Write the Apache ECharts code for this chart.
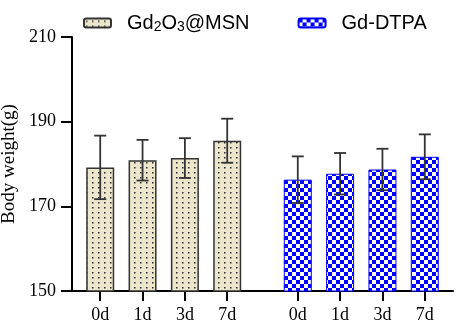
<!DOCTYPE html>
<html>
<head>
<meta charset="utf-8">
<script src="https://cdn.jsdelivr.net/npm/echarts@6/dist/echarts.min.js"></script>
<style>
  html, body { margin: 0; padding: 0; background: #fff; }
  #chart { width: 457px; height: 324px; }
</style>
</head>
<body>
<div id="chart"></div>
<script>
// data
const days = ['0d', '1d', '3d', '7d']
const msnMean = [179.2, 180.9, 181.4, 185.5]
const msnSd = [7.5, 4.8, 4.7, 5.2]
const dtpaMean = [176.3, 177.7, 178.7, 181.7]
const dtpaSd = [5.5, 4.9, 4.9, 5.3]

// where each group sits on a fine category axis (gap between groups)
const slotCount = 28
const msnSlots = [2, 5, 8, 11]
const dtpaSlots = [16, 19, 22, 25]

const serif = '"Liberation Serif", "Times New Roman", serif'
const sans = '"Liberation Sans", Arial, sans-serif'

// fill patterns
const dotCanvas = document.createElement('canvas')
dotCanvas.width = 6
dotCanvas.height = 5
let ctx = dotCanvas.getContext('2d')
ctx.fillStyle = '#ece6cd'
ctx.fillRect(0, 0, 6, 5)
ctx.fillStyle = '#2b2b2b'
ctx.fillRect(2, 2, 1.5, 1.5)

const checkCanvas = document.createElement('canvas')
checkCanvas.width = 8
checkCanvas.height = 8
ctx = checkCanvas.getContext('2d')
ctx.fillStyle = '#ffffff'
ctx.fillRect(0, 0, 8, 8)
ctx.fillStyle = '#0000ff'
ctx.fillRect(0, 0, 4, 4)
ctx.fillRect(4, 4, 4, 4)

// build slot arrays
const xLabels = new Array(slotCount).fill('')
const msnData = new Array(slotCount).fill('-')
const dtpaData = new Array(slotCount).fill('-')
const errData = []
days.forEach((d, i) => {
    xLabels[msnSlots[i]] = d
    xLabels[dtpaSlots[i]] = d
    msnData[msnSlots[i]] = msnMean[i]
    dtpaData[dtpaSlots[i]] = dtpaMean[i]
    errData.push([msnSlots[i], msnMean[i] - msnSd[i], msnMean[i] + msnSd[i]])
    errData.push([dtpaSlots[i], dtpaMean[i] - dtpaSd[i], dtpaMean[i] + dtpaSd[i]])
})
const isLabelled = (idx) => xLabels[idx] !== ''

const chartInstance = echarts.init(document.getElementById('chart'))

const option = {
    animation: false,
    legend: {
        top: 8,
        left: 78,
        itemWidth: 27,
        itemHeight: 9,
        itemGap: 48,
        data: ['Gd2O3@MSN', 'Gd-DTPA'],
        formatter: (name) => name === 'Gd2O3@MSN' ? 'Gd{sub|2}O{sub|3}@MSN' : name,
        textStyle: {
            fontFamily: sans,
            fontSize: 20,
            color: '#000',
            padding: [0, 0, 0, 11],
            rich: {
                sub: {
                    fontFamily: sans,
                    fontSize: 14,
                    verticalAlign: 'bottom',
                    padding: [8, 0, 0, 0],
                    color: '#000'
                }
            }
        }
    },
    grid: {
        left: 72,
        right: 4,
        top: 37,
        bottom: 33,
        containLabel: false,
        outerBoundsMode: 'none'
    },
    xAxis: {
        type: 'category',
        data: xLabels,
        boundaryGap: false,
        axisLine: { lineStyle: { color: '#000', width: 2 } },
        axisTick: {
            interval: isLabelled,
            length: 10,
            lineStyle: { color: '#000', width: 2 }
        },
        axisLabel: {
            interval: isLabelled,
            margin: 15,
            fontFamily: serif,
            fontSize: 18,
            color: '#000'
        }
    },
    yAxis: {
        type: 'value',
        min: 150,
        max: 210,
        interval: 20,
        name: 'Body weight(g)',
        nameLocation: 'middle',
        nameGap: 52,
        nameTextStyle: { fontFamily: serif, fontSize: 19, color: '#000' },
        splitLine: { show: false },
        axisLine: { show: true, lineStyle: { color: '#000', width: 2 } },
        axisTick: { show: true, length: 11, lineStyle: { color: '#000', width: 2 } },
        axisLabel: { margin: 16, fontFamily: serif, fontSize: 18, color: '#000' }
    },
    series: [
        {
            name: 'Gd2O3@MSN',
            type: 'bar',
            data: msnData,
            barWidth: 28,
            barGap: '-100%',
            itemStyle: {
                color: { image: dotCanvas, repeat: 'repeat' },
                borderColor: '#333',
                borderWidth: 1.5
            }
        },
        {
            name: 'Gd-DTPA',
            type: 'bar',
            data: dtpaData,
            barWidth: 28,
            barGap: '-100%',
            itemStyle: {
                color: { image: checkCanvas, repeat: 'repeat' },
                borderColor: '#0000ff',
                borderWidth: 1
            }
        },
        {
            name: 'error',
            type: 'custom',
            data: errData,
            z: 10,
            renderItem: (params, api) => {
                const x = api.value(0)
                const lo = api.coord([x, api.value(1)])
                const hi = api.coord([x, api.value(2)])
                const half = 6
                const style = { stroke: '#333', lineWidth: 1.8 }
                return {
                    type: 'group',
                    children: [
                        { type: 'line', shape: { x1: lo[0], y1: lo[1], x2: hi[0], y2: hi[1] }, style },
                        { type: 'line', shape: { x1: hi[0] - half, y1: hi[1], x2: hi[0] + half, y2: hi[1] }, style },
                        { type: 'line', shape: { x1: lo[0] - half, y1: lo[1], x2: lo[0] + half, y2: lo[1] }, style }
                    ]
                }
            }
        }
    ]
}
chartInstance.setOption(option)
</script>
</body>
</html>
